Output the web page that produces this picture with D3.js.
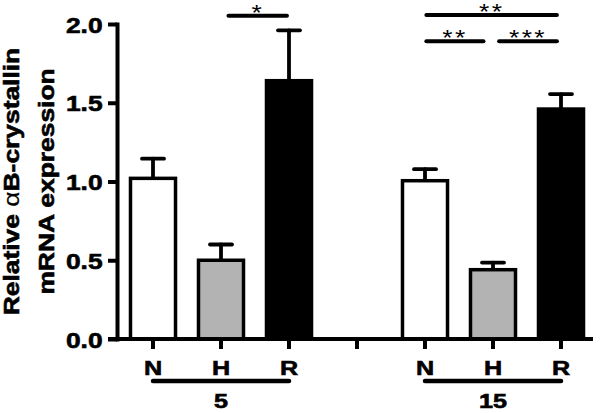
<!DOCTYPE html>
<html>
<head>
<meta charset="utf-8">
<script src="https://cdn.jsdelivr.net/npm/d3@7"></script>
<style>
  body { margin: 0; background: #fff; }
  text { font-family: "Liberation Sans", Arial, sans-serif; }
  .heavy { stroke: black; stroke-width: 0.6px; }
</style>
</head>
<body>
<svg id="chart" width="600" height="413"></svg>
<script>
// data
const barKeys = ["N5", "H5", "R5", "gap", "N15", "H15", "R15"];
const tickLabels = ["N", "H", "R", "", "N", "H", "R"];
const conditions = ["N", "H", "R", null, "N", "H", "R"];
const means = [1.02, 0.50, 1.64, null, 1.005, 0.44, 1.46];
const errors = [0.125, 0.10, 0.32, null, 0.073, 0.045, 0.095];
const yTicks = [0, 0.5, 1.0, 1.5, 2.0];

// group labels under the axis: [label, first index, last index]
const groups = [["5", 0, 2], ["15", 4, 6]];

// significance brackets: [from index, to index, y value, stars]
const sigs = [
	[1.11, 1.97, 2.053, "*"],
	[4.02, 5.94, 2.057, "**"],
	[4.02, 4.86, 1.89, "**"],
	[5.09, 5.94, 1.89, "***"]
];

const fillColor = { N: "#ffffff", H: "#b3b3b3", R: "#000000" };
const stretch = "scale(1.2,1)";

const svg = d3.select("#chart");

const x = d3.scaleBand()
	.domain(barKeys)
	.range([119, 595])
	.paddingInner(0.338)
	.paddingOuter(0.169);
const bw = x.bandwidth();
// index -> band centre, used for brackets and group lines
const xi = d3.scaleLinear()
	.domain([0, barKeys.length - 1])
	.range([x(barKeys[0]) + bw / 2, x(barKeys[barKeys.length - 1]) + bw / 2]);

const y = d3.scaleLinear().domain([0, 2]).range([339, 24]);

const bars = barKeys.map((k, i) => ({ key: k, cond: conditions[i], mean: means[i], err: errors[i] }))
	.filter(d => d.mean !== null);

// error bars (drawn first so bars cover the stem)
const eb = svg.append("g")
	.attr("stroke", "black")
	.attr("stroke-width", 3.8)
	.attr("stroke-linecap", "round");
eb.selectAll("line.stem")
	.data(bars)
	.enter()
	.append("line")
	.attr("class", "stem")
	.attr("x1", d => x(d.key) + bw / 2)
	.attr("x2", d => x(d.key) + bw / 2)
	.attr("y1", d => y(d.mean))
	.attr("y2", d => y(d.mean + d.err));
eb.selectAll("line.cap")
	.data(bars)
	.enter()
	.append("line")
	.attr("class", "cap")
	.attr("x1", d => x(d.key) + bw / 2 - 11)
	.attr("x2", d => x(d.key) + bw / 2 + 11)
	.attr("y1", d => y(d.mean + d.err))
	.attr("y2", d => y(d.mean + d.err));

// bars
svg.append("g")
	.selectAll("rect")
	.data(bars)
	.enter()
	.append("rect")
	.attr("x", d => x(d.key))
	.attr("y", d => y(d.mean))
	.attr("width", bw)
	.attr("height", d => y(0) - y(d.mean))
	.attr("fill", d => fillColor[d.cond])
	.attr("stroke", "black")
	.attr("stroke-width", 3.5);

// y axis
const yAxis = svg.append("g")
	.attr("transform", "translate(117,0)")
	.call(d3.axisLeft(y).tickValues(yTicks).tickSize(9).tickSizeOuter(0).tickFormat(d3.format(".1f")));
yAxis.select(".domain")
	.attr("stroke-width", 4)
	.attr("stroke-linecap", "square");
yAxis.selectAll(".tick line").attr("stroke-width", 4);
yAxis.selectAll(".tick text")
	.attr("class", "heavy")
	.attr("x", -12)
	.attr("dy", "0.37em")
	.attr("transform", stretch)
	.style("font-size", "22px")
	.style("font-weight", "bold")
	.style("font-family", "'Liberation Sans', Arial, sans-serif")
	.attr("fill", "black");

// x axis
const xAxis = svg.append("g")
	.attr("transform", "translate(0,339)")
	.call(d3.axisBottom(x).tickSize(10).tickFormat((d, i) => tickLabels[i]));
xAxis.select(".domain").remove();
xAxis.append("line")
	.attr("x1", 108)
	.attr("x2", 593)
	.attr("stroke", "black")
	.attr("stroke-width", 4);
xAxis.selectAll(".tick line").attr("stroke-width", 4);
xAxis.selectAll(".tick text")
	.attr("class", "heavy")
	.attr("y", 36)
	.attr("dy", 0)
	.attr("transform", stretch)
	.style("font-size", "21px")
	.style("font-weight", "bold")
	.style("font-family", "'Liberation Sans', Arial, sans-serif")
	.attr("fill", "black");

// group lines and labels
const g = svg.append("g");
g.selectAll("line")
	.data(groups)
	.enter()
	.append("line")
	.attr("x1", d => xi(d[1]))
	.attr("x2", d => xi(d[2]))
	.attr("y1", 381)
	.attr("y2", 381)
	.attr("stroke", "black")
	.attr("stroke-width", 4.5)
	.attr("stroke-linecap", "round");
g.selectAll("text")
	.data(groups)
	.enter()
	.append("text")
	.attr("class", "heavy")
	.attr("transform", d => `translate(${xi((d[1] + d[2]) / 2)},408) ${stretch}`)
	.attr("text-anchor", "middle")
	.style("font-size", "21px")
	.style("font-weight", "bold")
	.text(d => d[0]);

// significance brackets
const s = svg.append("g");
s.selectAll("line")
	.data(sigs)
	.enter()
	.append("line")
	.attr("x1", d => xi(d[0]))
	.attr("x2", d => xi(d[1]))
	.attr("y1", d => y(d[2]))
	.attr("y2", d => y(d[2]))
	.attr("stroke", "black")
	.attr("stroke-width", 4)
	.attr("stroke-linecap", "round");
s.selectAll("text")
	.data(sigs)
	.enter()
	.append("text")
	.attr("transform", d => `translate(${xi((d[0] + d[1]) / 2)},${y(d[2]) + 4}) ${stretch}`)
	.attr("text-anchor", "middle")
	.style("font-size", "22px")
	.style("letter-spacing", "2px")
	.text(d => d[3]);

// y axis title, two lines
const title = svg.append("g")
	.attr("transform", `translate(0,${(y(0) + y(2)) / 2})`);
const t1 = title.append("text")
	.attr("class", "heavy")
	.attr("transform", `translate(18.5,0) rotate(-90) ${stretch}`)
	.attr("text-anchor", "middle")
	.style("font-size", "22px")
	.style("font-weight", "bold");
t1.append("tspan").text("Relative ");
t1.append("tspan").style("font-weight", "normal").style("stroke-width", "0.2px").text("α");
t1.append("tspan").text("B-crystallin");
title.append("text")
	.attr("class", "heavy")
	.attr("transform", `translate(53.5,0) rotate(-90) ${stretch}`)
	.attr("text-anchor", "middle")
	.style("font-size", "22px")
	.style("font-weight", "bold")
	.text("mRNA expression");
</script>
</body>
</html>
